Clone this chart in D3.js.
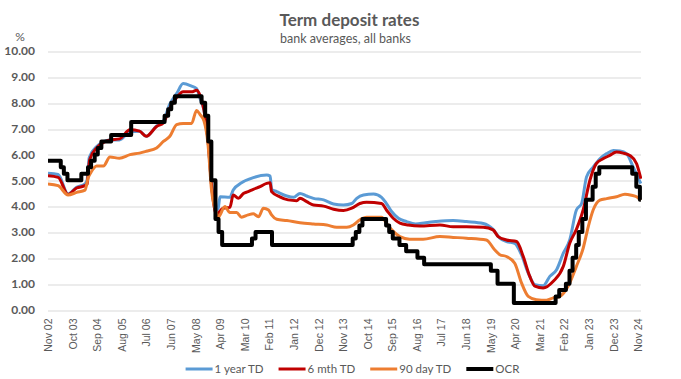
<!DOCTYPE html>
<html><head><meta charset="utf-8">
<script src="https://cdn.jsdelivr.net/npm/d3@7"></script>
<style>body{margin:0;background:#fff;} svg{display:block;}</style>
</head><body><svg id="c" width="681" height="379"></svg>
<script>
// ---------- data ----------
const seriesNames = ["1 year TD", "6 mth TD", "90 day TD", "OCR"];
const seriesColors = ["#5B9BD5", "#C00000", "#ED7D31", "#000000"];

const oneYearTD = [
["2002-11-01",5.27],["2003-03-19",5.22],["2003-08-01",4.47],["2003-11-25",4.73],["2004-03-19",4.86],
["2004-04-16",5.0],["2004-05-16",5.88],["2004-08-25",6.3],["2005-02-22",6.56],["2005-07-01",6.56],
["2005-11-22",6.88],["2006-04-01",6.9],["2006-07-01",6.7],["2006-11-19",7.1],["2007-02-19",7.3],
["2007-05-19",7.95],["2007-08-19",8.35],["2007-11-16",8.74],["2008-03-10",8.64],["2008-05-16",8.55],
["2008-07-01",8.17],["2008-08-25",7.72],["2008-10-19",6.57],["2008-12-07",4.8],["2009-02-16",3.85],
["2009-03-07",3.92],["2009-04-01",4.36],["2009-08-13",4.34],["2009-09-28",4.62],["2010-01-19",4.9],
["2010-06-28",5.1],["2010-12-28",5.2],["2011-02-13",5.16],["2011-03-04",4.65],["2011-05-13",4.56],
["2011-09-28",4.39],["2011-12-28",4.34],["2012-03-25",4.49],["2012-06-25",4.39],["2012-09-25",4.3],
["2013-02-10",4.24],["2013-06-25",4.08],["2013-11-07",4.04],["2014-03-01",4.1],["2014-05-07",4.3],
["2014-08-07",4.43],["2014-12-22",4.47],["2015-04-10",4.34],["2015-06-16",4.1],["2015-08-25",3.79],
["2015-11-25",3.53],["2016-03-16",3.4],["2016-07-16",3.31],["2016-12-01",3.36],["2017-04-16",3.4],
["2017-12-10",3.44],["2018-06-10",3.4],["2019-01-25",3.33],["2019-06-07",3.1],["2019-09-07",2.76],
["2019-12-07",2.63],["2020-03-28",2.56],["2020-06-28",2.12],["2020-09-28",1.41],["2020-12-28",0.96],
["2021-04-19",0.92],["2021-07-19",1.28],["2021-10-19",1.54],["2022-01-19",2.18],["2022-04-16",2.69],
["2022-07-16",3.85],["2022-09-25",4.1],["2022-12-01",5.13],["2023-03-01",5.51],["2023-06-01",5.83],
["2023-09-01",6.03],["2023-12-01",6.15],["2024-03-01",6.13],["2024-05-28",6.03],["2024-08-28",5.51],
["2024-12-10",4.87]
];

const sixMonthTD = [
["2002-11-01",5.17],["2003-03-19",5.11],["2003-08-01",4.45],["2003-11-25",4.7],["2004-03-19",4.79],
["2004-04-16",4.85],["2004-05-22",5.8],["2004-08-25",6.25],["2005-02-22",6.56],["2005-07-01",6.6],
["2005-11-22",6.95],["2006-04-01",6.9],["2006-07-01",6.7],["2006-11-19",7.08],["2007-02-19",7.22],
["2007-05-19",7.8],["2007-08-19",8.2],["2007-11-16",8.42],["2008-03-10",8.42],["2008-05-16",8.48],
["2008-07-01",8.3],["2008-08-25",7.72],["2008-10-19",6.57],["2008-12-07",4.8],["2009-02-16",3.65],
["2009-03-07",3.72],["2009-05-16",3.92],["2009-08-13",3.95],["2009-09-28",4.43],["2009-12-07",4.3],
["2010-02-13",4.49],["2010-04-19",4.56],["2010-06-28",4.65],["2010-09-28",4.75],["2010-12-28",4.88],
["2011-02-13",4.9],["2011-03-04",4.56],["2011-06-25",4.36],["2011-10-16",4.24],["2012-02-10",4.21],
["2012-03-25",4.3],["2012-06-25",4.17],["2012-09-25",4.04],["2013-02-10",4.0],["2013-06-25",3.88],
["2013-11-07",3.83],["2014-03-01",3.92],["2014-06-19",4.1],["2014-09-19",4.15],["2015-04-10",4.1],
["2015-06-16",3.85],["2015-09-16",3.53],["2015-12-16",3.34],["2016-04-07",3.27],["2016-09-13",3.23],
["2017-06-13",3.27],["2017-12-10",3.2],["2018-06-10",3.2],["2019-01-25",3.18],["2019-06-07",3.08],
["2019-08-16",2.82],["2019-12-07",2.69],["2020-04-22",2.63],["2020-07-22",2.05],["2020-10-19",1.28],
["2020-12-28",0.9],["2021-04-19",0.83],["2021-09-04",1.09],["2022-01-19",1.67],["2022-04-16",2.56],
["2022-07-16",3.1],["2022-10-16",3.85],["2023-01-16",5.0],["2023-04-13",5.64],["2023-07-13",5.83],
["2023-10-13",5.96],["2024-01-13",6.09],["2024-04-13",6.05],["2024-07-13",5.96],["2024-10-13",5.64],
["2024-12-10",5.06]
];

const ninetyDayTD = [
["2002-11-01",4.86],["2003-03-19",4.79],["2003-08-01",4.43],["2003-11-25",4.53],["2004-03-19",4.62],
["2004-05-01",5.1],["2004-06-07",5.3],["2004-08-25",5.55],["2004-11-25",5.55],["2005-02-22",5.9],
["2005-07-01",5.85],["2005-11-22",5.99],["2006-04-01",6.05],["2006-07-01",6.12],["2006-11-19",6.25],
["2007-02-19",6.5],["2007-05-19",6.7],["2007-08-19",7.15],["2007-11-16",7.2],["2008-03-10",7.2],
["2008-05-16",7.7],["2008-07-01",7.55],["2008-08-25",7.3],["2008-10-19",6.4],["2008-12-07",4.6],
["2009-02-16",3.7],["2009-03-07",3.57],["2009-06-07",3.98],["2009-08-13",3.75],["2009-11-13",3.75],
["2010-01-19",3.57],["2010-04-19",3.66],["2010-06-28",3.7],["2010-09-07",3.59],["2010-11-13",3.92],
["2011-01-22",3.85],["2011-03-04",3.66],["2011-05-13",3.49],["2011-09-28",3.44],["2012-03-25",3.36],
["2012-09-25",3.31],["2013-03-25",3.27],["2013-08-07",3.18],["2013-12-22",3.18],["2014-03-22",3.27],
["2014-06-19",3.47],["2014-09-19",3.57],["2015-04-10",3.57],["2015-06-16",3.34],["2015-09-16",3.02],
["2015-12-16",2.82],["2016-04-28",2.72],["2016-10-28",2.72],["2017-06-13",2.82],["2017-12-10",2.79],
["2018-06-10",2.76],["2019-03-07",2.69],["2019-06-28",2.31],["2019-09-07",2.12],["2019-12-07",2.05],
["2020-03-28",1.79],["2020-06-28",1.03],["2020-09-28",0.51],["2021-01-19",0.38],["2021-06-04",0.36],
["2021-09-04",0.45],["2021-12-04",0.51],["2022-03-25",0.9],["2022-07-16",1.67],["2022-10-16",2.37],
["2022-12-25",3.21],["2023-03-01",3.85],["2023-06-01",4.23],["2023-09-01",4.29],["2024-01-13",4.36],
["2024-05-07",4.46],["2024-08-04",4.42],["2024-10-13",4.36],["2024-12-10",4.23]
];

// OCR: date of each change and the new level (step series)
const ocr = [
["2002-11-01",5.75],["2003-04-24",5.5],["2003-06-05",5.25],["2003-07-24",5.0],["2004-01-29",5.25],
["2004-04-29",5.5],["2004-06-10",5.75],["2004-07-29",6.0],["2004-09-09",6.25],["2004-10-28",6.5],
["2005-03-10",6.75],["2005-12-08",7.25],["2007-03-08",7.5],["2007-04-26",7.75],["2007-06-07",8.0],
["2007-07-26",8.25],["2008-07-24",8.0],["2008-09-11",7.5],["2008-10-23",6.5],["2008-12-04",5.0],
["2009-01-29",3.5],["2009-03-12",3.0],["2009-04-30",2.5],["2010-06-10",2.75],["2010-07-29",3.0],
["2011-03-10",2.5],["2014-03-13",2.75],["2014-04-24",3.0],["2014-06-12",3.25],["2014-07-24",3.5],
["2015-06-11",3.25],["2015-07-23",3.0],["2015-09-10",2.75],["2015-12-10",2.5],["2016-03-10",2.25],
["2016-08-11",2.0],["2016-11-10",1.75],["2019-05-08",1.5],["2019-08-07",1.0],["2020-03-16",0.25],
["2021-10-06",0.5],["2021-11-24",0.75],["2022-02-23",1.0],["2022-04-13",1.5],["2022-05-25",2.0],
["2022-07-13",2.5],["2022-08-17",3.0],["2022-10-05",3.5],["2022-11-23",4.25],["2023-02-22",4.75],
["2023-04-05",5.25],["2023-05-24",5.5],["2024-08-14",5.25],["2024-10-09",4.75],["2024-11-27",4.25],
["2024-12-10",4.25]
];

const yTicks = [0,1,2,3,4,5,6,7,8,9,10];
const xTickStart = "2002-11-01";   // first category label
const xTickEvery = 11;             // months between labels
const xTickCount = 25;
const titleText = "Term deposit rates";
const subtitleText = "bank averages, all banks";
const unitText = "%";

// ---------- drawing ----------
const svg = d3.select("#c");
const parse = d3.timeParse("%Y-%m-%d");
const plotL = 48, plotR = 641, plotT = 51, plotB = 309.5;

const t0 = parse(xTickStart);
const xTicks = d3.range(xTickCount).map(i => d3.timeMonth.offset(t0, i * xTickEvery));
const x = d3.scaleTime().domain([t0, xTicks[xTicks.length - 1]]).range([plotL, 638]);
const y = d3.scaleLinear().domain([0, 10]).range([plotB, plotT]);

const textCol = "#595959";

// y axis with gridlines
const yAxis = svg.append("g").attr("transform", `translate(${plotL},0)`)
  .call(d3.axisLeft(y).tickValues(yTicks).tickFormat(d3.format(".2f"))
        .tickSizeInner(-(plotR - plotL)).tickSizeOuter(0).tickPadding(13));
yAxis.select(".domain").remove();
yAxis.selectAll("line").attr("stroke", "#D9D9D9").attr("stroke-width", 1)
  .attr("transform", d => `translate(0,${Math.round(y(d)) + 0.5 - y(d)})`);
yAxis.selectAll("text").attr("fill", textCol)
  .style("font-family", "Lato, 'Noto Sans', sans-serif").style("font-weight", "bold").style("font-size", "12px");

// x axis labels
const xAxis = svg.append("g").attr("transform", `translate(0,${plotB})`)
  .call(d3.axisBottom(x).tickValues(xTicks).tickFormat(d3.timeFormat("%b %y")).tickSize(0));
xAxis.select(".domain").remove();
xAxis.selectAll("text")
  .attr("transform", "rotate(-90)").attr("x", -9).attr("y", 0).attr("dy", "0.35em")
  .style("text-anchor", "end").attr("fill", textCol)
  .style("font-family", "'Liberation Sans', Arial, sans-serif").style("font-size", "10.5px");

// lines
svg.append("defs").append("clipPath").attr("id", "clip")
  .append("rect").attr("x", plotL).attr("y", 0).attr("width", plotR - plotL + 1).attr("height", 379);

const toPts = arr => arr.map(d => ({ date: parse(d[0]), v: d[1] }));
const lineSmooth = d3.line().x(d => x(d.date)).y(d => y(d.v)).curve(d3.curveMonotoneX);
const lineStep = d3.line().x(d => x(d.date)).y(d => y(d.v)).curve(d3.curveStepAfter);

const series = [
  { data: toPts(oneYearTD), gen: lineSmooth, w: 3 },
  { data: toPts(sixMonthTD), gen: lineSmooth, w: 3 },
  { data: toPts(ninetyDayTD), gen: lineSmooth, w: 3 },
  { data: toPts(ocr), gen: lineStep, w: 4 }
];
const gLines = svg.append("g").attr("clip-path", "url(#clip)");
series.forEach((s, i) => {
  gLines.append("path").datum(s.data).attr("d", s.gen)
    .attr("fill", "none").attr("stroke", seriesColors[i]).attr("stroke-width", s.w)
    .attr("stroke-linejoin", "round").attr("stroke-linecap", "butt");
});

// title, subtitle, unit
svg.append("text").attr("x", 349.5).attr("y", 26).attr("text-anchor", "middle")
  .attr("fill", textCol).style("font-family", "Lato, sans-serif").style("font-weight", "bold")
  .style("font-size", "17px").text(titleText);
svg.append("text").attr("x", 345.5).attr("y", 42.5).attr("text-anchor", "middle")
  .attr("fill", textCol).style("font-family", "Lato, sans-serif")
  .style("font-size", "12.5px").text(subtitleText);
svg.append("text").attr("x", 20).attr("y", 41).attr("text-anchor", "middle")
  .attr("fill", textCol).style("font-family", "Lato, sans-serif")
  .style("font-size", "12px").text(unitText);

// legend
const lg = svg.append("g");
const items = seriesNames.map((name, i) => {
  const g = lg.append("g");
  g.append("line").attr("x1", 0).attr("x2", 27).attr("y1", 0).attr("y2", 0)
    .attr("stroke", seriesColors[i]).attr("stroke-width", i === 3 ? 4 : 3);
  const t = g.append("text").attr("x", 29).attr("y", 0).attr("dy", "0.35em")
    .attr("fill", textCol).style("font-family", "Lato, sans-serif").style("font-size", "11.5px").text(name);
  return { g, w: 29 + t.node().getComputedTextLength() };
});
const gap = 15;
const total = d3.sum(items, d => d.w) + gap * (items.length - 1);
let cx = 352.5 - total / 2;
items.forEach(it => { it.g.attr("transform", `translate(${cx},369)`); cx += it.w + gap; });
</script></body></html>
